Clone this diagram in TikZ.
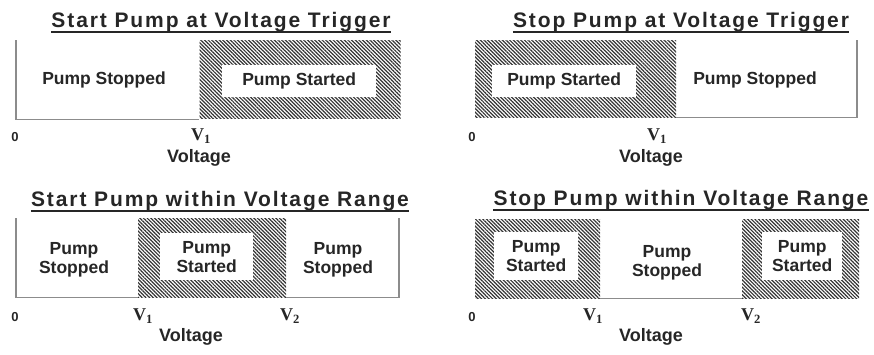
\documentclass[tikz,border=0pt]{standalone}
\usepackage{fontspec}
\setmainfont{Liberation Sans}
\newfontfamily\titlefont[LetterSpace=9]{Liberation Sans}
\newfontfamily\seriffont{Liberation Serif}
\usetikzlibrary{patterns.meta,positioning}

\begin{document}
\begin{tikzpicture}[x=1pt, y=-1pt,
  title/.style={font=\titlefont\fontsize{21}{24}\selectfont\bfseries, text=black!85, inner sep=0pt, anchor=base},
  uline/.style={line width=1.8pt, black!85},
  hatch/.style={pattern={Lines[angle=-45,distance=2.6pt,line width=1.2pt]}, pattern color=black!80, inner sep=0pt, anchor=north west},
  state/.style={font=\fontsize{17.5}{19}\selectfont\bfseries, text=black!85, align=center, inner sep=0pt},
  onbox/.style={state, fill=white, anchor=north west},
  axis/.style={line width=1.3pt, black!45},
  zero/.style={font=\fontsize{13}{15}\selectfont\bfseries, text=black!85},
  volt/.style={font=\seriffont\fontsize{18}{20}\selectfont\bfseries, text=black!85},
  vlabel/.style={font=\fontsize{18}{20}\selectfont\bfseries, text=black!85}]

  \useasboundingbox (0,0) rectangle (874,354);

  % Start Pump at Voltage Trigger
  \node[title] (Title1) at (221,27) {Start Pump at Voltage Trigger};
  \draw[uline] ([yshift=-5pt]Title1.base west) -- ([yshift=-5pt]Title1.base east);
  \node[hatch, minimum width=201, minimum height=78] (Started1) at (199,40) {};
  \node[onbox, minimum width=154, minimum height=32] (StartedText1) at (222,65) {Pump Started};
  \node[state] (Stopped1) at (104,80) {Pump Stopped};
  \coordinate (Top1) at (16,40);
  \draw[axis] (Top1) |- (Started1.south west);
  \node[zero] (Zero1) at (15,137) {0};
  \node[volt] (VOne1) at (201,136) {V\textsubscript{1}};
  \node[vlabel] (Voltage1) at (199,158) {Voltage};

  % Stop Pump at Voltage Trigger
  \node[title] (Title2) at (681,27) {Stop Pump at Voltage Trigger};
  \draw[uline] ([yshift=-5pt]Title2.base west) -- ([yshift=-5pt]Title2.base east);
  \node[hatch, minimum width=201, minimum height=77] (Started2) at (475,40) {};
  \node[onbox, minimum width=144, minimum height=32] (StartedText2) at (492,65) {Pump Started};
  \node[state] (Stopped2) at (755,80) {Pump Stopped};
  \coordinate (Top2) at (857,40);
  \draw[axis] (Started2.south east) -| (Top2);
  \node[zero] (Zero2) at (472,137) {0};
  \node[volt] (VOne2) at (657,136) {V\textsubscript{1}};
  \node[vlabel] (Voltage2) at (651,158) {Voltage};

  % Start Pump within Voltage Range
  \node[title] (Title3) at (220,206) {Start Pump within Voltage Range};
  \draw[uline] ([yshift=-5pt]Title3.base west) -- ([yshift=-5pt]Title3.base east);
  \node[hatch, minimum width=148, minimum height=79] (Started3) at (138,218) {};
  \node[onbox, minimum width=93, minimum height=47] (StartedText3) at (160,233) {Pump\\Started};
  \node[state] (StoppedA3) at (74,260) {Pump\\Stopped};
  \node[state] (StoppedB3) at (338,260) {Pump\\Stopped};
  \coordinate (TopA3) at (16,218);
  \coordinate (TopB3) at (399,218);
  \draw[axis] (TopA3) |- (Started3.south west);
  \draw[axis] (Started3.south east) -| (TopB3);
  \node[zero] (Zero3) at (15,317) {0};
  \node[volt] (VOne3) at (143,316) {V\textsubscript{1}};
  \node[volt] (VTwo3) at (290,316) {V\textsubscript{2}};
  \node[vlabel] (Voltage3) at (191,337) {Voltage};

  % Stop Pump within Voltage Range
  \node[title] (Title4) at (681,205) {Stop Pump within Voltage Range};
  \draw[uline] ([yshift=-5pt]Title4.base west) -- ([yshift=-5pt]Title4.base east);
  \node[hatch, minimum width=125, minimum height=79] (StartedA4) at (475,219) {};
  \node[onbox, minimum width=84, minimum height=48] (StartedTextA4) at (494,232) {Pump\\Started};
  \node[hatch, minimum width=117, minimum height=79] (StartedB4) at (742,219) {};
  \node[onbox, minimum width=80, minimum height=48] (StartedTextB4) at (762,232) {Pump\\Started};
  \node[state] (Stopped4) at (667,263) {Pump\\Stopped};
  \draw[axis] (StartedA4.south east) -- (StartedB4.south west);
  \node[zero] (Zero4) at (472,317) {0};
  \node[volt] (VOne4) at (593,316) {V\textsubscript{1}};
  \node[volt] (VTwo4) at (751,316) {V\textsubscript{2}};
  \node[vlabel] (Voltage4) at (651,337) {Voltage};

\end{tikzpicture}
\end{document}
